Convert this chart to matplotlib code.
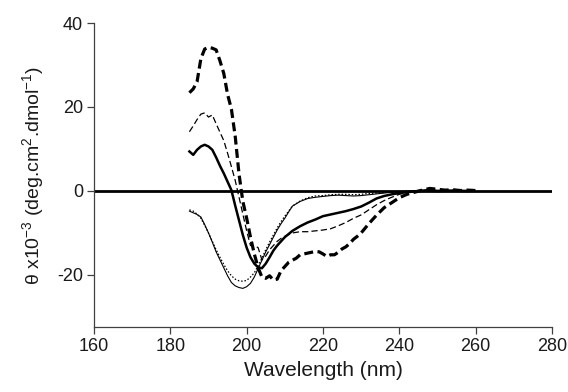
import numpy as np
from matplotlib import pyplot as plt

plt.rcParams['font.family'] = ['Liberation Sans', 'DejaVu Sans']
plt.rcParams['axes.unicode_minus'] = False
plt.rcParams['mathtext.default'] = 'regular'

# thick dashed trace
wl_a = [185, 186, 187, 188, 189, 190, 191, 192, 193, 194, 195, 196, 197, 198, 199, 200,
        201, 202, 203, 204, 205, 206, 207, 208, 209, 210, 211, 212, 213, 214, 215, 216,
        217, 218, 219, 220, 221, 222, 223, 224, 225, 226, 227, 228, 229, 230, 232, 234,
        236, 238, 240, 242, 244, 246, 248, 250, 252, 254, 256, 258, 260]
th_a = [23.4, 24.3, 26.0, 31.5, 33.8, 34.2, 34.0, 33.6, 31.0, 28.0, 23.0, 19.5, 13.0, 4.0,
        -2.5, -6.5, -11.0, -15.0, -18.3, -20.5, -20.8, -20.2, -21.2, -21.0, -19.0, -18.0,
        -17.0, -16.5, -16.0, -15.2, -15.0, -14.8, -14.6, -14.4, -14.5, -15.0, -15.6, -15.2,
        -15.2, -14.6, -13.8, -13.3, -12.5, -11.5, -10.8, -10.0, -7.8, -5.8, -4.0, -2.8,
        -1.6, -0.8, -0.3, 0.2, 0.6, 0.4, 0.2, 0.3, 0.1, 0.2, 0.1]

# thin dashed trace
wl_b = [185, 186, 187, 188, 189, 190, 191, 192, 193, 194, 195, 196, 197, 198, 199, 200,
        201, 202, 203, 204, 205, 206, 207, 208, 209, 210, 212, 214, 216, 218, 220, 222,
        224, 226, 228, 230, 232, 234, 236, 238, 240, 242, 244, 246, 248, 250, 254, 258]
th_b = [14.1, 15.5, 17.0, 18.3, 18.6, 17.6, 18.1, 16.0, 14.0, 12.0, 9.0, 5.8, 2.5, -1.5,
        -5.5, -9.5, -13.0, -13.0, -13.5, -16.4, -15.5, -14.0, -13.0, -12.0, -11.3, -10.8,
        -10.0, -9.7, -9.7, -9.5, -9.3, -9.0, -8.3, -7.5, -6.5, -5.7, -4.5, -3.3, -2.3, -1.5,
        -0.8, -0.4, -0.1, 0.2, 0.3, 0.1, 0.2, 0.0]

# thick solid trace
wl_c = [185, 186, 187, 188, 189, 190, 191, 192, 193, 194, 195, 196, 197, 198, 199, 200,
        201, 202, 203, 204, 205, 206, 207, 208, 209, 210, 212, 214, 216, 218, 220, 222,
        224, 226, 228, 230, 232, 234, 236, 238, 240, 242, 244, 246, 248, 250, 254, 258]
th_c = [9.4, 8.6, 9.8, 10.6, 11.0, 10.6, 9.8, 8.0, 6.0, 4.2, 2.2, 0.2, -3.5, -7.0, -10.5,
        -13.5, -15.8, -17.3, -18.2, -18.4, -17.3, -15.8, -14.2, -13.0, -12.0, -11.0, -9.5,
        -8.4, -7.5, -6.8, -6.0, -5.6, -5.2, -4.8, -4.3, -3.7, -2.8, -1.8, -1.2, -0.8, -0.5,
        -0.3, -0.1, 0.1, 0.1, 0.0, 0.1, 0.0]

# thin solid trace
wl_d = [185, 186, 187, 188, 189, 190, 191, 192, 193, 194, 195, 196, 197, 198, 199, 200,
        201, 202, 203, 204, 205, 206, 207, 208, 209, 210, 211, 212, 214, 216, 218, 220,
        222, 224, 226, 228, 230, 232, 234, 236, 238, 240, 242, 244, 246, 248, 250]
th_d = [-4.8, -5.2, -5.6, -6.2, -8.0, -10.0, -12.2, -14.5, -16.4, -18.3, -20.2, -21.8,
        -22.6, -23.0, -23.2, -22.8, -22.0, -20.5, -18.5, -16.5, -14.5, -12.8, -11.0, -9.3,
        -7.8, -6.5, -5.0, -3.6, -2.5, -1.8, -1.5, -1.3, -1.1, -1.0, -1.1, -1.2, -1.1, -0.9,
        -0.7, -0.5, -0.3, -0.2, -0.1, 0.0, 0.0, 0.0, 0.0]

# dotted trace
wl_e = wl_d
th_e = [-4.5, -4.8, -5.5, -6.5, -8.2, -10.0, -12.0, -14.0, -15.8, -17.5, -19.0, -20.2,
        -21.0, -21.4, -21.5, -21.3, -20.5, -19.5, -17.8, -16.0, -14.0, -12.2, -10.5, -8.8,
        -7.3, -6.0, -4.8, -3.6, -2.4, -1.6, -1.2, -1.1, -0.9, -0.8, -0.8, -0.9, -0.8, -0.6,
        -0.5, -0.4, -0.2, -0.1, 0.0, 0.0, 0.0, 0.0, 0.0]

fig = plt.figure(figsize=(5.68, 3.92), dpi=100)
ax = fig.add_axes([0.1655, 0.1658, 0.8063, 0.7755])

ax.axhline(0, color="k", lw=2.0, zorder=1)
ax.plot(wl_d, th_d, color="k", lw=0.8)
ax.plot(wl_e, th_e, color="k", lw=0.9, dashes=(1.2, 1.5))
ax.plot(wl_b, th_b, color="k", lw=0.9, dashes=(5, 2.5))
ax.plot(wl_c, th_c, color="k", lw=1.8)
ax.plot(wl_a, th_a, color="k", lw=2.3, dashes=(2.8, 1.4))

ax.set_xlim(160, 280)
ax.set_ylim(-32.4, 40)
ax.set_xticks(np.arange(160, 281, 20))
ax.set_yticks([-20, 0, 20, 40])

for s in ["top", "right"]:
    ax.spines[s].set_visible(False)
for s in ["left", "bottom"]:
    ax.spines[s].set_color("#404040")
    ax.spines[s].set_linewidth(0.9)
ax.tick_params(direction="out", length=5, width=0.9, color="#404040",
               labelsize=13, labelcolor="#1a1a1a", pad=3)

ax.set_xlabel("Wavelength (nm)", fontsize=15, color="#1a1a1a", labelpad=4)
ax.set_ylabel(r"θ x10$^{-3}$ (deg.cm$^{2}$.dmol$^{-1}$)", fontsize=14,
              color="#1a1a1a", labelpad=8)

plt.savefig("out.png", dpi=100)
